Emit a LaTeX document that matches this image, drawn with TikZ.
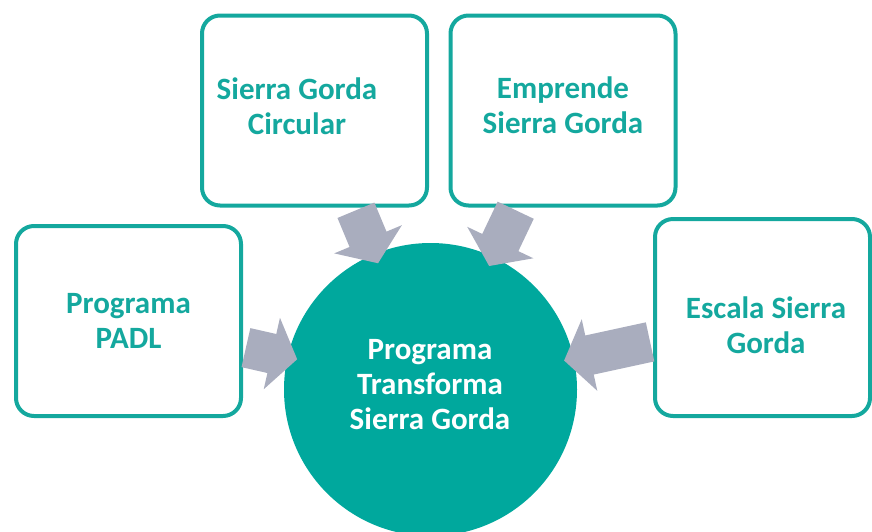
\documentclass[tikz,border=0pt]{standalone}
\usepackage{fontspec}
\setmainfont{Carlito}
\usetikzlibrary{arrows.meta}
\definecolor{teal}{HTML}{14A89E}
\definecolor{hubfill}{HTML}{00A89D}
\definecolor{arrowgray}{HTML}{A9ADBE}
\begin{document}
\begin{tikzpicture}[x=1pt,y=-1pt,
    font=\fontsize{31}{35}\selectfont\bfseries]
        \useasboundingbox (0, 0) rectangle (872, 531);
        \begin{scope}[every node/.style={draw=teal,line width=4pt,rounded corners=18pt,
                minimum width=225pt,minimum height=190pt}]
            \node (padl) at (128.5, 321) {};
            \node (circ) at (314.5, 110.5) {};
            \node (empr) at (563, 110.5) {};
            \node[minimum width=215pt,minimum height=197pt] (esca) at (762.5, 317.5) {};
        \end{scope}
        \begin{scope}[every node/.style={text=teal,align=center}]
            \node (padltext) at (128.5, 321) {Programa\\PADL};
            \node (circtext) at (297, 106) {Sierra Gorda\\Circular};
            \node (emprtext) at (563, 105) {Emprende\\Sierra Gorda};
            \node (escatext) at (766, 325) {Escala Sierra\\Gorda};
        \end{scope}
        \node[circle,fill=hubfill,minimum size=293pt,text=white,align=center]
            (hub) at (430.5, 389.5) {};
        \node[text=white,align=center] (hubtext) at (430, 385) {Programa\\Transforma\\Sierra Gorda};
        \begin{scope}[every path/.style={draw=arrowgray,line width=40pt,
                shorten >=-10pt,shorten <=3pt,-{Triangle[width=72pt,length=26pt]}}]
            \path (padl) edge (hub);
            \path (circ) edge (hub);
            \path (empr) edge (hub);
            \path (esca) edge (hub);
        \end{scope}
    \end{tikzpicture}
\end{document}
